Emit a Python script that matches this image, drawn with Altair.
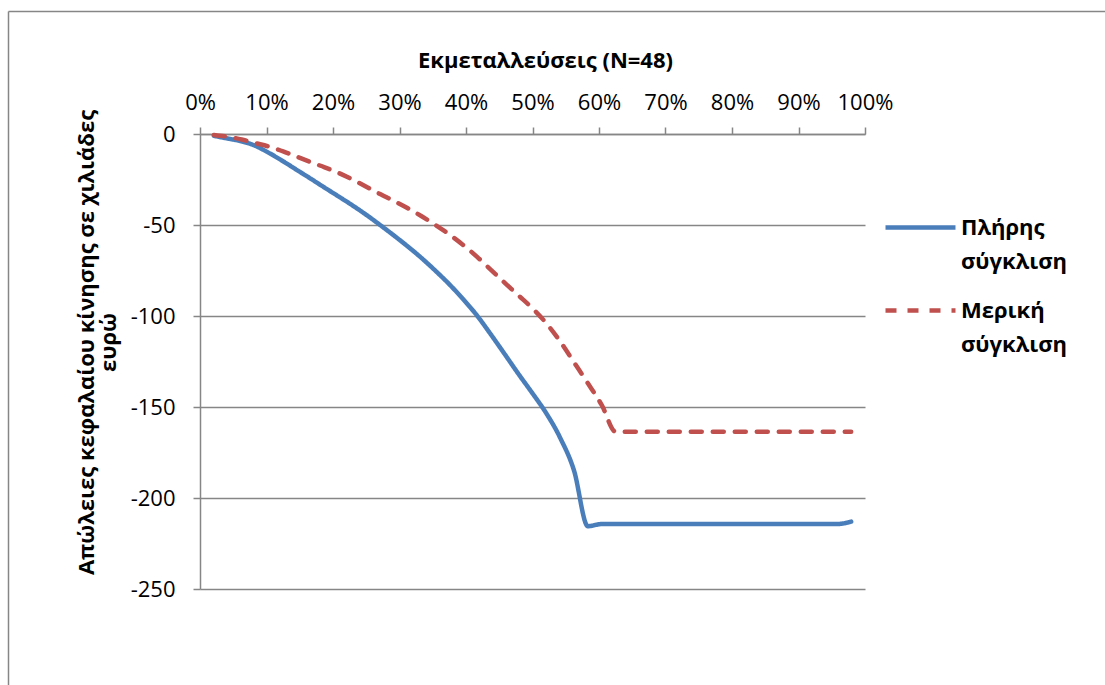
import altair as alt
import pandas as pd

# Cumulative share of farms (N=48), in percent
share_pct = [2.08, 4.17, 6.25, 8.33, 10.42, 12.50, 14.58, 16.67, 18.75, 20.83,
             22.92, 25.00, 27.08, 29.17, 31.25, 33.33, 35.42, 37.50, 39.58, 41.67,
             43.75, 45.83, 47.92, 50.00, 52.08, 54.17, 56.25, 58.33, 60.42, 62.50,
             64.58, 66.67, 68.75, 70.83, 72.92, 75.00, 77.08, 79.17, 81.25, 83.33,
             85.42, 87.50, 89.58, 91.67, 93.75, 95.83, 97.92]

# Working-capital losses, thousand euro
full_conv = [-1, -2.5, -4, -6.5, -10.5, -15, -19.8, -24.6, -29.5, -34.3,
             -39.2, -44.4, -50, -55.8, -61.8, -68.2, -75.2, -82.6, -90.8, -99.8,
             -110.2, -121, -132, -142.5, -153.5, -167, -185, -215.5, -214.3, -214.3,
             -214.3, -214.3, -214.3, -214.3, -214.3, -214.3, -214.3, -214.3, -214.3, -214.3,
             -214.3, -214.3, -214.3, -214.3, -214.3, -214.3, -213]
partial_conv = [-0.5, -1.5, -3, -5, -7, -9.5, -12.5, -15.5, -18.3, -21.4,
                -25, -29, -33, -36.8, -40.8, -45.2, -50, -55.2, -61, -67.5,
                -74.6, -81.8, -88.8, -95.8, -104, -114, -125.5, -137, -149, -163.6,
                -163.6, -163.6, -163.6, -163.6, -163.6, -163.6, -163.6, -163.6, -163.6, -163.6,
                -163.6, -163.6, -163.6, -163.6, -163.6, -163.6, -163.6]

series_names = ["Πλήρης σύγκλιση", "Μερική σύγκλιση"]
series_colors = ["#4A7EBB", "#C0504D"]
x_ticks = [0, 0.1, 0.2, 0.3, 0.4, 0.5, 0.6, 0.7, 0.8, 0.9, 1.0]
y_ticks = [-250, -200, -150, -100, -50, 0]

rows = []
for name, vals in zip(series_names, [full_conv, partial_conv]):
    for p, v in zip(share_pct, vals):
        rows.append({"share": p / 100, "loss": v, "series": name})
df = pd.DataFrame(rows)

FONT = "Open Sans"
GREY = "#868686"
FS = 22

lines = alt.Chart(df).mark_line(strokeWidth=4.5, strokeCap="round",
                                strokeJoin="round", interpolate="monotone").encode(
    x=alt.X("share:Q", scale=alt.Scale(domain=[0, 1], nice=False),
            axis=alt.Axis(orient="top", format=".0%", values=x_ticks, grid=False,
                          tickSize=7, labelPadding=25, labelBaseline="middle",
                          labelFontSize=FS, labelOverlap=False, labelBound=False,
                          labelFlush=False,
                          title="Εκμεταλλεύσεις (N=48)", titleFontSize=FS,
                          titleFontWeight="bold", titleX=345, titleY=-74,
                          titleAnchor="middle", titleBaseline="middle")),
    y=alt.Y("loss:Q", scale=alt.Scale(domain=[-250, 0], nice=False),
            axis=alt.Axis(values=y_ticks, grid=True, tickSize=7, labelPadding=18,
                          labelFontSize=FS, labelExpr="datum.value",
                          labelOverlap=False, labelFlush=False,
                          title=["Απώλειες κεφαλαίου κίνησης σε χιλιάδες", "ευρώ"],
                          titleFontSize=FS, titleFontWeight="bold",
                          titleAngle=270, titleX=-114, titleY=208,
                          titleAnchor="middle", titleBaseline="middle",
                          titleLineHeight=22)),
    color=alt.Color("series:N", sort=series_names,
                    scale=alt.Scale(domain=series_names, range=series_colors),
                    legend=alt.Legend(title=None, orient="none", legendX=683,
                                      legendY=56, symbolType="stroke",
                                      symbolSize=4900, symbolStrokeWidth=4.5,
                                      labelFontSize=FS, labelFontWeight="bold",
                                      labelExpr="split(datum.label, ' ')",
                                      labelOffset=3, rowPadding=-5)),
    strokeDash=alt.StrokeDash("series:N", sort=series_names,
                              scale=alt.Scale(domain=series_names,
                                              range=[[1, 0], [11, 11]]),
                              legend=alt.Legend(title=None, orient="none",
                                                legendX=683, legendY=56)),
    detail="series:N",
)

# outer frame of the chart object (top and left edges)
frame_top = alt.Chart().mark_rule(color=GREY, strokeWidth=1.5).encode(
    x=alt.value(-191.5), x2=alt.value(910), y=alt.value(-122.5))
frame_left = alt.Chart().mark_rule(color=GREY, strokeWidth=1.5).encode(
    x=alt.value(-191.5), y=alt.value(-122.5), y2=alt.value(560))

chart = alt.layer(frame_top, frame_left, lines).properties(
    width=665, height=455,
    autosize=alt.AutoSizeParams(type="none"),
    padding={"left": 200, "top": 134, "right": 240, "bottom": 96},
).configure(
    style={"guide-label": {"lineHeight": 34}}
).configure_view(stroke=None).configure_axis(
    domainColor=GREY, tickColor=GREY, gridColor=GREY, domainWidth=1.5,
    tickWidth=1.5, gridWidth=1.5, labelFont=FONT, titleFont=FONT,
    labelColor="black", titleColor="black",
).configure_legend(labelFont=FONT, labelColor="black")

chart.save("out.html", embed_options={"renderer": "svg", "actions": False})
